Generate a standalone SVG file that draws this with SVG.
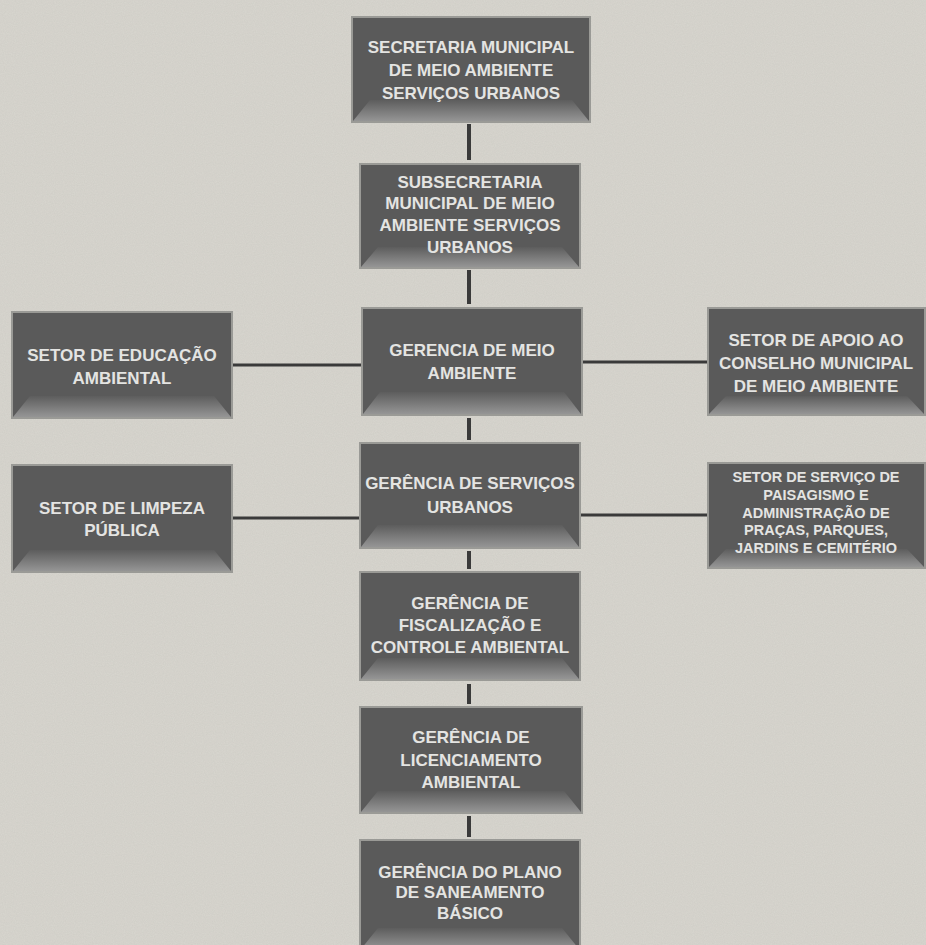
<svg xmlns="http://www.w3.org/2000/svg" width="926" height="945" viewBox="0 0 926 945">
<defs>
<linearGradient id="bev" x1="0" y1="0" x2="0" y2="1">
<stop offset="0" stop-color="#5d5d5d"/>
<stop offset="1" stop-color="#959595"/>
</linearGradient>
<filter id="noise" x="0" y="0" width="100%" height="100%">
<feTurbulence type="fractalNoise" baseFrequency="0.9" numOctaves="2" seed="3" result="t"/>
<feColorMatrix in="t" type="matrix" values="0 0 0 0 0.5  0 0 0 0 0.5  0 0 0 0 0.5  0 0 0 0.18 0"/>
<feComposite in2="SourceGraphic" operator="in"/>
<feBlend in2="SourceGraphic" mode="multiply"/>
</filter>
<style>
.box{fill:#5a5a5a;stroke:#9a9a96;stroke-width:2}
.bevel{fill:url(#bev)}
.side{fill:#4e4e4e}
.lbl{font-family:"Liberation Sans",Arial,sans-serif;font-weight:bold;font-size:17px;fill:#e4e4e2;text-anchor:middle}
.sm{font-size:14.5px}
.conn line{stroke:#3a3a3a}
.v{stroke-width:4}
.h{stroke-width:3}
</style>
</defs>
<rect width="926" height="945" fill="#d8d6cf"/>
<rect width="926" height="945" fill="#d8d6cf" filter="url(#noise)"/>

<g id="connectors" class="conn">
<line class="v" x1="469" y1="124" x2="469" y2="160"/>
<line class="v" x1="469" y1="270" x2="469" y2="304"/>
<line class="v" x1="469" y1="418" x2="469" y2="440"/>
<line class="v" x1="469" y1="551" x2="469" y2="569"/>
<line class="v" x1="469" y1="684" x2="469" y2="704"/>
<line class="v" x1="469" y1="816" x2="469" y2="837"/>
<line class="h" x1="232" y1="365" x2="362" y2="365"/>
<line class="h" x1="232" y1="518" x2="360" y2="518"/>
<line class="h" x1="582" y1="362" x2="708" y2="362"/>
<line class="h" x1="580" y1="515" x2="708" y2="515"/>
</g>

<g id="n1">
<rect class="box" x="352" y="17" width="238" height="105"/>
<polygon class="bevel" points="353,121 370,100 572,100 589,121"/>
<text class="lbl" x="471" y="53">SECRETARIA MUNICIPAL</text>
<text class="lbl" x="471" y="76">DE MEIO AMBIENTE</text>
<text class="lbl" x="471" y="99">SERVIÇOS URBANOS</text>
</g>

<g id="n2">
<rect class="box" x="360" y="164" width="220" height="104"/>
<polygon class="bevel" points="361,267 378,247 562,247 579,267"/>
<text class="lbl" x="470" y="188">SUBSECRETARIA</text>
<text class="lbl" x="470" y="209">MUNICIPAL DE MEIO</text>
<text class="lbl" x="470" y="231">AMBIENTE SERVIÇOS</text>
<text class="lbl" x="470" y="253">URBANOS</text>
</g>

<g id="n3">
<rect class="box" x="362" y="308" width="220" height="107"/>
<polygon class="bevel" points="363,414 380,392 564,392 581,414"/>
<text class="lbl" x="472" y="356">GERENCIA DE MEIO</text>
<text class="lbl" x="472" y="379">AMBIENTE</text>
</g>

<g id="n4">
<rect class="box" x="360" y="443" width="220" height="105"/>
<polygon class="bevel" points="361,547 378,525 562,525 579,547"/>
<text class="lbl" x="470" y="489">GERÊNCIA DE SERVIÇOS</text>
<text class="lbl" x="470" y="513">URBANOS</text>
</g>

<g id="n5">
<rect class="box" x="360" y="572" width="220" height="108"/>
<polygon class="bevel" points="361,679 378,658 562,658 579,679"/>
<text class="lbl" x="470" y="609">GERÊNCIA DE</text>
<text class="lbl" x="470" y="631">FISCALIZAÇÃO E</text>
<text class="lbl" x="470" y="653">CONTROLE AMBIENTAL</text>
</g>

<g id="n6">
<rect class="box" x="360" y="707" width="222" height="106"/>
<polygon class="bevel" points="361,812 378,791 564,791 581,812"/>
<text class="lbl" x="471" y="743">GERÊNCIA DE</text>
<text class="lbl" x="471" y="766">LICENCIAMENTO</text>
<text class="lbl" x="471" y="788">AMBIENTAL</text>
</g>

<g id="n7">
<rect class="box" x="360" y="840" width="220" height="110"/>
<polygon class="bevel" points="361,949 378,928 562,928 579,949"/>
<text class="lbl" x="470" y="878">GERÊNCIA DO PLANO</text>
<text class="lbl" x="470" y="898">DE SANEAMENTO</text>
<text class="lbl" x="470" y="919">BÁSICO</text>
</g>

<g id="n8">
<rect class="box" x="12" y="312" width="220" height="106"/>
<polygon class="bevel" points="13,417 30,396 214,396 231,417"/>
<text class="lbl" x="122" y="361">SETOR DE EDUCAÇÃO</text>
<text class="lbl" x="122" y="384">AMBIENTAL</text>
</g>

<g id="n9">
<rect class="box" x="12" y="465" width="220" height="107"/>
<polygon class="bevel" points="13,571 30,550 214,550 231,571"/>
<text class="lbl" x="122" y="514">SETOR DE LIMPEZA</text>
<text class="lbl" x="122" y="536">PÚBLICA</text>
</g>

<g id="n10">
<rect class="box" x="708" y="308" width="217" height="107"/>
<polygon class="bevel" points="709,414 726,396 907,396 924,414"/>
<text class="lbl" x="816" y="346">SETOR DE APOIO AO</text>
<text class="lbl" x="816" y="369">CONSELHO MUNICIPAL</text>
<text class="lbl" x="816" y="392">DE MEIO AMBIENTE</text>
</g>

<g id="n11">
<rect class="box" x="708" y="463" width="217" height="105"/>
<polygon class="bevel" points="709,567 726,549 907,549 924,567"/>
<text class="lbl sm" x="816" y="482">SETOR DE SERVIÇO DE</text>
<text class="lbl sm" x="816" y="500">PAISAGISMO E</text>
<text class="lbl sm" x="816" y="518">ADMINISTRAÇÃO DE</text>
<text class="lbl sm" x="816" y="535">PRAÇAS, PARQUES,</text>
<text class="lbl sm" x="816" y="553">JARDINS E CEMITÉRIO</text>
</g>
</svg>
